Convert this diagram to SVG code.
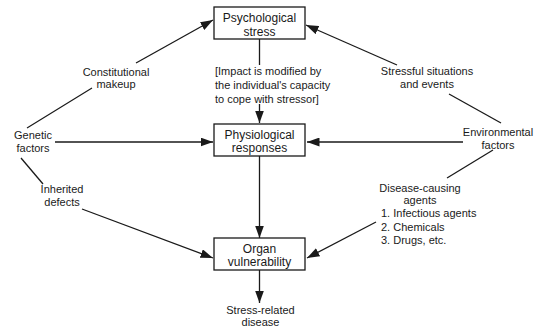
<svg xmlns="http://www.w3.org/2000/svg" width="537" height="327" viewBox="0 0 537 327">
<defs>
<marker id="ah" markerUnits="userSpaceOnUse" markerWidth="13" markerHeight="9" refX="12.5" refY="4.5" orient="auto">
<path d="M0,0 L12.5,4.5 L0,9 z" fill="#1a1a1a"/>
</marker>
<style>
text{font-family:"Liberation Sans",Arial,Helvetica,sans-serif;fill:#1a1a1a}
.bx{font-size:12px;text-anchor:middle}
.lb{font-size:11px;text-anchor:middle}
.ll{font-size:11px;text-anchor:start}
rect{fill:#fff;stroke:#1a1a1a;stroke-width:1.3}
line{stroke:#1a1a1a;stroke-width:1.3}
.a{marker-end:url(#ah)}
</style>
</defs>
<rect width="537" height="327" fill="#fff" style="stroke:none"/>
<g id="connectors">
<line x1="27" y1="128" x2="92" y2="88"/>
<line class="a" x1="136" y1="63" x2="213" y2="20"/>
<line class="a" x1="397" y1="65" x2="306" y2="25"/>
<line x1="501" y1="123" x2="449" y2="94"/>
<line class="a" x1="55" y1="142" x2="213" y2="142"/>
<line class="a" x1="463" y1="142" x2="307" y2="142"/>
<line x1="21" y1="158" x2="43" y2="184"/>
<line class="a" x1="82" y1="209" x2="213" y2="258"/>
<line x1="493" y1="150" x2="447" y2="178"/>
<line class="a" x1="376" y1="222" x2="307" y2="258"/>
<line x1="259.5" y1="39" x2="259.5" y2="65"/>
<line class="a" x1="259.5" y1="104" x2="259.5" y2="123"/>
<line class="a" x1="259.5" y1="156" x2="259.5" y2="238"/>
<line class="a" x1="259.5" y1="270" x2="259.5" y2="303"/>
</g>
<g id="psychological-stress">
<rect x="214" y="7" width="91" height="32"/>
<text class="bx" x="259.5" y="22">Psychological</text>
<text class="bx" x="259.5" y="35.5">stress</text>
</g>
<g id="physiological-responses">
<rect x="214" y="124" width="91" height="32"/>
<text class="bx" x="259.5" y="138.5">Physiological</text>
<text class="bx" x="259.5" y="152">responses</text>
</g>
<g id="organ-vulnerability">
<rect x="214" y="238" width="91" height="32"/>
<text class="bx" x="259.5" y="252.5">Organ</text>
<text class="bx" x="259.5" y="266">vulnerability</text>
</g>
<g id="impact-note">
<text class="ll" x="215" y="75">[Impact is modified by</text>
<text class="ll" x="215" y="89">the individual's capacity</text>
<text class="ll" x="215" y="103">to cope with stressor]</text>
</g>
<g id="constitutional-makeup">
<text class="lb" x="116" y="76">Constitutional</text>
<text class="lb" x="116" y="88">makeup</text>
</g>
<g id="stressful-situations">
<text class="lb" x="427" y="75">Stressful situations</text>
<text class="lb" x="427" y="87.5">and events</text>
</g>
<g id="genetic-factors">
<text class="lb" x="33" y="139">Genetic</text>
<text class="lb" x="33" y="152">factors</text>
</g>
<g id="environmental-factors">
<text class="lb" x="498" y="136">Environmental</text>
<text class="lb" x="498" y="148.5">factors</text>
</g>
<g id="inherited-defects">
<text class="lb" x="62" y="193">Inherited</text>
<text class="lb" x="62" y="206">defects</text>
</g>
<g id="disease-causing-agents">
<text class="lb" x="420" y="192">Disease-causing</text>
<text class="lb" x="420" y="204">agents</text>
<text class="ll" x="381" y="217">1. Infectious agents</text>
<text class="ll" x="381" y="230.5">2. Chemicals</text>
<text class="ll" x="381" y="244">3. Drugs, etc.</text>
</g>
<g id="stress-related-disease">
<text class="lb" x="260.5" y="314">Stress-related</text>
<text class="lb" x="260.5" y="325.5">disease</text>
</g>
</svg>
